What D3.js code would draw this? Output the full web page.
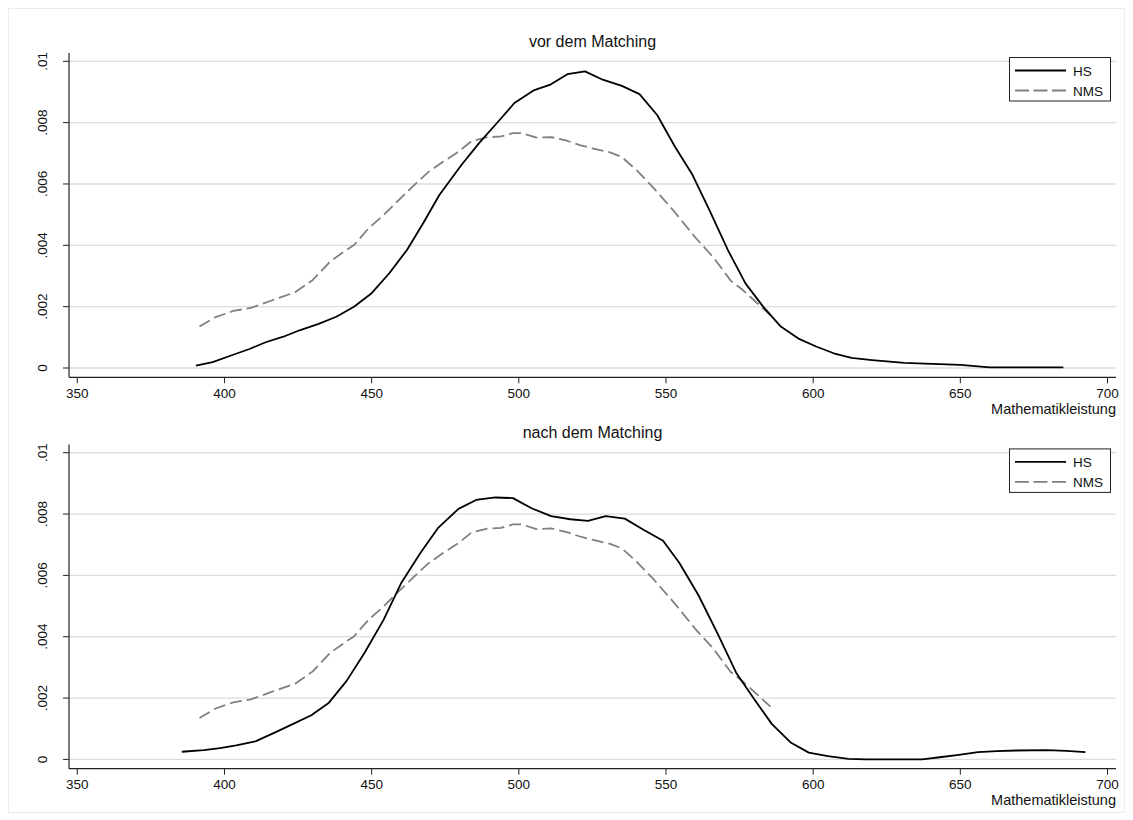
<!DOCTYPE html>
<html>
<head>
<meta charset="utf-8">
<script src="https://cdn.jsdelivr.net/npm/d3@7"></script>
<style>
  html, body { margin: 0; padding: 0; background: #fff; }
  svg { display: block; font-family: "Liberation Sans", Arial, sans-serif; }
</style>
</head>
<body>
<svg id="chart" width="1133" height="820"></svg>
<script>
// ---- data ----
const panelTitles = ["vor dem Matching", "nach dem Matching"];
const seriesNames = ["HS", "NMS"];
const xTicks = [350, 400, 450, 500, 550, 600, 650, 700];
const yTicks = [0, 0.002, 0.004, 0.006, 0.008, 0.01];
const yTickLabels = ["0", ".002", ".004", ".006", ".008", ".01"];
const xAxisTitle = "Mathematikleistung";

// HS density before matching [score, density]
const hsBefore = [
  [390.3,0.000075],[396,0.00019],[402,0.0004],[408.5,0.00062],[414,0.00084],[420,0.00102],
  [425.5,0.00123],[432,0.00144],[438,0.00167],[444,0.002],[450,0.00244],[456,0.00309],
  [462,0.00385],[467.5,0.00472],[473,0.00564],[480.5,0.00662],[486.5,0.00733],[492.5,0.00798],
  [498.5,0.00864],[505,0.00905],[510.5,0.00923],[516.5,0.00958],[522.5,0.00967],[528.5,0.0094],
  [535,0.0092],[541,0.00893],[547,0.00825],[553,0.00722],[559,0.0063],[565,0.0051],
  [571,0.00385],[577,0.00276],[583,0.002],[589,0.00135],[595,0.00096],[601,0.0007],
  [607,0.00048],[613,0.00033],[620,0.00026],[631,0.00017],[650,0.0001],[660,0.00002],[685,0.00002]
];
// HS density after matching
const hsAfter = [
  [385.5,0.00025],[393,0.0003],[398.5,0.00037],[404,0.00046],[410.5,0.00059],[416.5,0.00085],
  [423,0.00114],[429.5,0.00144],[435.5,0.00185],[441.5,0.00256],[447.5,0.00346],[454,0.00454],
  [460,0.00574],[466.5,0.00672],[472.5,0.00754],[479.5,0.00817],[485.5,0.00846],[492,0.00854],
  [498,0.00852],[504.5,0.00818],[511,0.00793],[517.5,0.00783],[523.5,0.00778],[529.5,0.00793],
  [536,0.00785],[542.5,0.00748],[549,0.00713],[554.5,0.00641],[561,0.00536],[567.5,0.00411],
  [574,0.0028],[580,0.00196],[586,0.00115],[592.5,0.00054],[598.5,0.00022],[605,0.00011],
  [612,0.00002],[618,0],[637,0],[643,0.00007],[649.5,0.00015],[656,0.00024],[662.5,0.00027],
  [669,0.00029],[679.5,0.0003],[686,0.00028],[692.5,0.00024]
];
// NMS density (same in both panels)
const nms = [
  [391.5,0.00135],[397,0.00166],[403,0.00186],[409,0.00196],[416,0.0022],[424,0.00247],
  [430,0.00287],[436,0.00348],[441,0.00382],[444,0.00401],[449,0.00456],[454,0.00498],
  [459,0.00546],[464,0.00592],[469,0.00637],[474,0.00671],[479,0.00702],[484,0.0074],
  [489,0.00752],[494,0.00755],[498,0.00766],[501,0.00766],[506,0.00751],[511,0.00753],
  [516,0.00742],[521,0.00726],[526,0.00714],[531,0.00703],[535,0.00688],[540,0.00645],
  [546,0.00585],[553,0.00508],[560,0.00425],[566,0.00362],[572,0.00285],[576,0.00255],
  [580,0.0022],[585.5,0.00172]
];
const panelSeries = [[hsBefore, nms], [hsAfter, nms]];

// ---- drawing ----
const svg = d3.select("#chart");
svg.append("rect").attr("x", 8.5).attr("y", 8.5).attr("width", 1116).attr("height", 804)
  .attr("fill", "none").attr("stroke", "#ececec");

const x = d3.scaleLinear().domain([350, 700]).range([77.3, 1107.5]);
const plotLeft = 69, plotRight = 1116;
const styles = [
  { stroke: "#000", width: 1.8, dash: null },
  { stroke: "#808080", width: 1.8, dash: "12,5" }
];

function drawPanel(i, offset) {
  const g = svg.append("g").attr("transform", `translate(0,${offset})`);
  const y = d3.scaleLinear().domain([0, 0.01]).range([368, 61.3]);
  const axisY = 377.3;

  // gridlines
  g.selectAll("line.grid").data(yTicks).enter().append("line")
    .attr("x1", plotLeft).attr("x2", plotRight)
    .attr("y1", d => y(d)).attr("y2", d => y(d))
    .attr("stroke", "#dcdcdc").attr("stroke-width", 1.3);

  // y axis
  g.append("line").attr("x1", plotLeft).attr("x2", plotLeft).attr("y1", 53).attr("y2", axisY)
    .attr("stroke", "#222").attr("stroke-width", 1.2);
  g.selectAll("line.yt").data(yTicks).enter().append("line")
    .attr("x1", plotLeft - 6).attr("x2", plotLeft).attr("y1", d => y(d)).attr("y2", d => y(d))
    .attr("stroke", "#222").attr("stroke-width", 1);
  g.selectAll("text.yl").data(yTicks).enter().append("text")
    .attr("transform", d => `translate(47,${y(d)}) rotate(-90)`)
    .attr("text-anchor", "middle").attr("font-size", 13.5).attr("fill", "#111")
    .text((d, k) => yTickLabels[k]);

  // x axis
  g.append("line").attr("x1", plotLeft).attr("x2", plotRight).attr("y1", axisY).attr("y2", axisY)
    .attr("stroke", "#222").attr("stroke-width", 1.2);
  g.selectAll("line.xt").data(xTicks).enter().append("line")
    .attr("x1", d => x(d)).attr("x2", d => x(d)).attr("y1", axisY).attr("y2", axisY + 6)
    .attr("stroke", "#222").attr("stroke-width", 1);
  g.selectAll("text.xl").data(xTicks).enter().append("text")
    .attr("x", d => x(d)).attr("y", 398).attr("text-anchor", "middle")
    .attr("font-size", 13.5).attr("fill", "#111").text(d => d);
  g.append("text").attr("x", plotRight).attr("y", 414).attr("text-anchor", "end")
    .attr("font-size", 14.5).attr("fill", "#111").text(xAxisTitle);

  // title
  g.append("text").attr("x", (plotLeft + plotRight) / 2).attr("y", 46.5)
    .attr("text-anchor", "middle").attr("font-size", 16).attr("fill", "#111").text(panelTitles[i]);

  // curves
  const line = d3.line().x(d => x(d[0])).y(d => y(d[1]));
  // draw NMS first, HS on top
  [1, 0].forEach(s => {
    g.append("path").datum(panelSeries[i][s]).attr("d", line)
      .attr("fill", "none").attr("stroke", styles[s].stroke)
      .attr("stroke-width", styles[s].width)
      .attr("stroke-dasharray", styles[s].dash)
      .attr("stroke-linejoin", "round");
  });

  // legend
  const lg = g.append("g");
  lg.append("rect").attr("x", 1009.5).attr("y", 57.5).attr("width", 101).attr("height", 43.5)
    .attr("fill", "#fff").attr("stroke", "#222").attr("stroke-width", 1);
  seriesNames.forEach((name, s) => {
    const ly = 70.5 + s * 20;
    lg.append("line").attr("x1", 1015).attr("x2", 1066).attr("y1", ly).attr("y2", ly)
      .attr("stroke", styles[s].stroke).attr("stroke-width", styles[s].width)
      .attr("stroke-dasharray", s === 1 ? "14,4.5" : null);
    lg.append("text").attr("x", 1073).attr("y", ly + 5).attr("font-size", 13.5)
      .attr("fill", "#111").text(name);
  });
}

drawPanel(0, 0);
drawPanel(1, 391.4);
</script>
</body>
</html>
